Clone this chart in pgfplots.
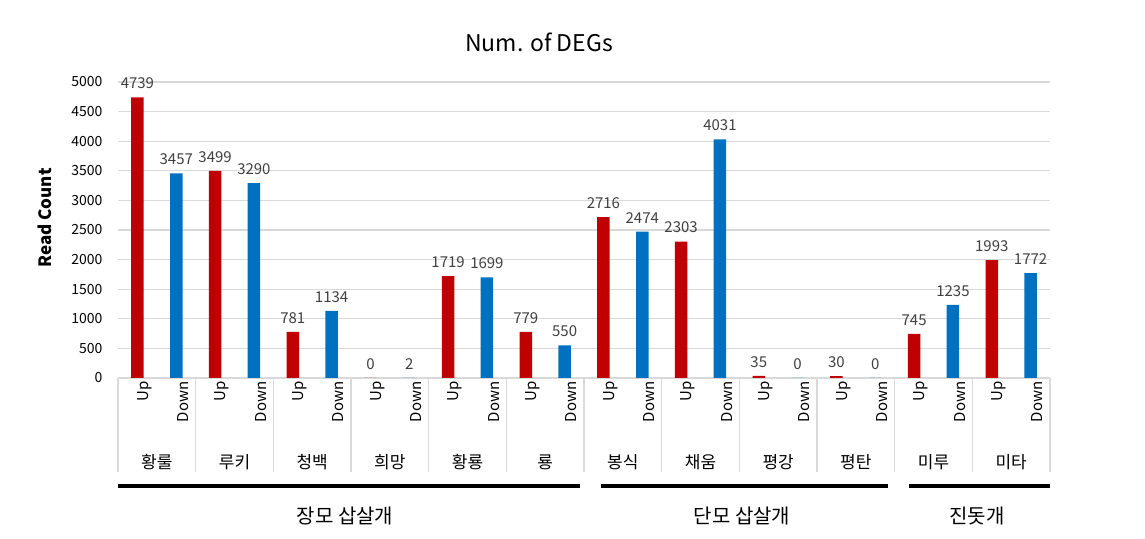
\documentclass[border=0pt]{standalone}
\usepackage{fontspec}
\setmainfont{Noto Sans CJK KR}
\usepackage{pgfplots}
\pgfplotsset{compat=1.18}
\definecolor{upred}{HTML}{C00000}
\definecolor{downblue}{HTML}{0070C0}
\definecolor{gridgray}{HTML}{D9D9D9}
\definecolor{txt}{HTML}{404040}
\begin{document}
\begin{tikzpicture}
\path[use as bounding box] (0pt,0pt) rectangle (1145pt,538pt);
\begin{axis}[
  at={(118pt,160pt)}, anchor=south west,
  scale only axis, width=932pt, height=296pt,
  xmin=-0.5, xmax=23.5, ymin=0, ymax=5000,
  axis line style={draw=none},
  clip=false,
  ytick={0,500,...,5000},
  scaled y ticks=false,
  /pgf/number format/1000 sep={},
  /pgf/number format/assume math mode=true,
  ymajorgrids, grid style={gridgray, line width=1.3pt},
  major tick length=0pt,
  xtick={0,...,23},
  xticklabels={Up,Down,Up,Down,Up,Down,Up,Down,Up,Down,Up,Down,Up,Down,Up,Down,Up,Down,Up,Down,Up,Down,Up,Down},
  xticklabel style={rotate=90, anchor=east, font=\fontsize{15}{15}\selectfont, text=black, yshift=-7pt},
  yticklabel style={font=\fontsize{14}{14}\selectfont, text=black, xshift=-12pt},
  ybar, bar width=12.5pt,
  nodes near coords,
  nodes near coords style={font=\fontsize{15}{15}\selectfont, text=txt, yshift=5pt},
]
\addplot[fill=upred, draw=none, bar shift=0pt] coordinates {
  (0,4739) (2,3499) (4,781) (6,0) (8,1719) (10,779)
  (12,2716) (14,2303) (16,35) (18,30) (20,745) (22,1993)};
\addplot[fill=downblue, draw=none, bar shift=0pt] coordinates {
  (1,3457) (3,3290) (5,1134) (7,2) (9,1699) (11,550)
  (13,2474) (15,4031) (17,0) (19,0) (21,1235) (23,1772)};
\pgfplotsinvokeforeach{-0.5,1.5,3.5,5.5,7.5,9.5,11.5,13.5,15.5,17.5,19.5,21.5,23.5}{
  \draw[gridgray, line width=1.3pt] (axis cs:#1,0) -- ([yshift=-94pt]axis cs:#1,0);
}
\begin{scope}[every node/.style={font=\fontsize{17}{17}\selectfont, text=black}]
\node at ([yshift=-84pt]axis cs:0.5,0) {황룰};
\node at ([yshift=-84pt]axis cs:2.5,0) {루키};
\node at ([yshift=-84pt]axis cs:4.5,0) {청백};
\node at ([yshift=-84pt]axis cs:6.5,0) {희망};
\node at ([yshift=-84pt]axis cs:8.5,0) {황룡};
\node at ([yshift=-84pt]axis cs:10.5,0) {룡};
\node at ([yshift=-84pt]axis cs:12.5,0) {봉식};
\node at ([yshift=-84pt]axis cs:14.5,0) {채움};
\node at ([yshift=-84pt]axis cs:16.5,0) {평강};
\node at ([yshift=-84pt]axis cs:18.5,0) {평탄};
\node at ([yshift=-84pt]axis cs:20.5,0) {미루};
\node at ([yshift=-84pt]axis cs:22.5,0) {미타};
\end{scope}
\end{axis}
\draw[black, line width=4pt] (118pt,52pt) -- (580pt,52pt);
\draw[black, line width=4pt] (601pt,52pt) -- (888pt,52pt);
\draw[black, line width=4pt] (909pt,52pt) -- (1050pt,52pt);
\node[font=\fontsize{20}{20}\selectfont] at (345pt,22pt) {장모 삽살개};
\node[font=\fontsize{20}{20}\selectfont] at (742pt,22pt) {단모 삽살개};
\node[font=\fontsize{20}{20}\selectfont] at (977pt,22pt) {진돗개};
\node[font=\fontsize{23}{23}\selectfont] at (539pt,496pt) {Num. of DEGs};
\node[rotate=90, font=\bfseries\fontsize{17}{17}\selectfont] at (45pt,320pt) {Read Count};
\end{tikzpicture}
\end{document}
